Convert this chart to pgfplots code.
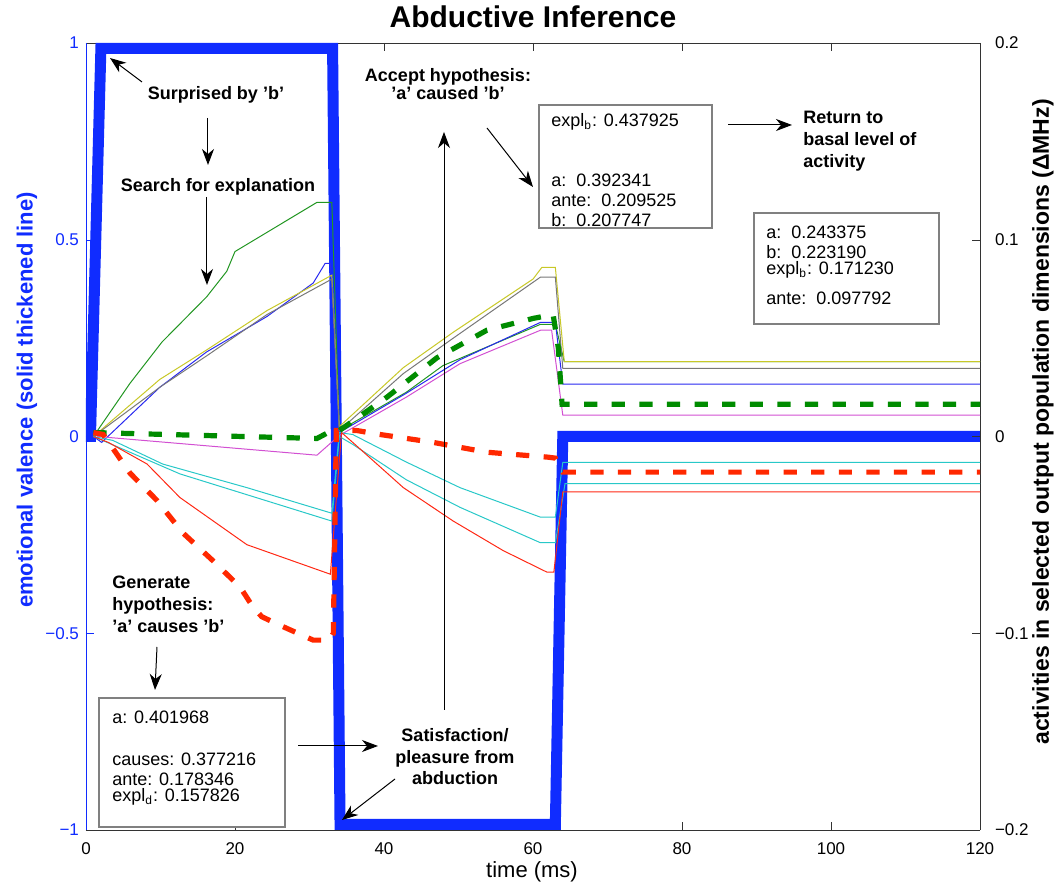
\documentclass[border=0pt]{standalone}
\usepackage{fontspec}
\setmainfont{Liberation Sans}
\usepackage{pgfplots}
\pgfplotsset{compat=1.18}
\usetikzlibrary{arrows.meta}

\definecolor{vblue}{RGB}{16,44,255}
\definecolor{cgreen}{RGB}{34,150,34}
\definecolor{cblue}{RGB}{40,40,240}
\definecolor{cyellow}{RGB}{200,200,40}
\definecolor{cgray}{RGB}{120,120,120}
\definecolor{cmag}{RGB}{210,80,210}
\definecolor{ccyan}{RGB}{40,200,200}
\definecolor{cred}{RGB}{255,40,20}
\definecolor{dgreen}{RGB}{0,140,0}
\definecolor{dred}{RGB}{255,40,0}

\tikzset{
  ann/.style={-{Stealth[length=8pt,width=6pt,inset=2.5pt]}, line width=0.5pt},
  btxt/.style={font=\bfseries\fontsize{9}{11}\selectfont, inner sep=0pt},
  rtxt/.style={font=\fontsize{9}{11}\selectfont, inner sep=0pt, anchor=west},
  vbox/.style={draw=black!50, line width=0.8pt, fill=white},
  thin/.style={line width=0.5pt, no markers},
  dashd/.style={line width=2.6pt, dash pattern=on 6.6pt off 7.2pt, no markers},
}

\begin{document}
\begin{tikzpicture}
\begin{axis}[
  at={(0,0)}, anchor=south west,
  scale only axis, width=447pt, height=393.5pt,
  xmin=0, xmax=120, ymin=-1, ymax=1,
  axis x line*=box, axis y line*=left,
  x axis line style={-, black!80},
  y axis line style={-, vblue},
  xtick={0,20,40,60,80,100,120}, xticklabels={0,20,40,60,80,100,120},
  ytick={-1,-0.5,0,0.5,1}, yticklabels={−1,−0.5,0,0.5,1},
  xtick pos=both, xticklabel pos=left,
  ytick pos=left, yticklabel pos=left,
  tick align=inside, major tick length=4pt,
  xtick style={black!80}, ytick style={vblue},
  yticklabel style={text=vblue, font=\fontsize{8.5}{10}\selectfont, xshift=0pt},
  xticklabel style={font=\fontsize{8.5}{10}\selectfont, yshift=-3pt},
  /pgf/number format/assume math mode=true,
]
\addplot[color=vblue, line width=5.5pt, line join=miter, no markers] coordinates {
(0,0) (0.6,0) (2,0.986) (33.1,0.986) (34.1,-0.986) (63,-0.986) (64,0) (120,0)};
\end{axis}

\begin{axis}[
  at={(0,0)}, anchor=south west,
  scale only axis, width=447pt, height=393.5pt,
  xmin=0, xmax=120, ymin=-0.2, ymax=0.2,
  axis x line=none, axis y line*=right,
  y axis line style={-, black!80},
  ytick={-0.2,-0.1,0,0.1,0.2}, yticklabels={−0.2,−0.1,0,0.1,0.2},
  ytick pos=right, yticklabel pos=right,
  tick align=inside, major tick length=4pt,
  ytick style={black!80},
  yticklabel style={font=\fontsize{8.5}{10}\selectfont, xshift=4pt},
  /pgf/number format/assume math mode=true,
]
% thin lines
\addplot[thin, color=cgreen] coordinates {
(1,0) (5.9,0.027) (10.2,0.048) (16.2,0.071) (18.9,0.084) (20,0.094) (31,0.119) (33,0.119)
(34,0.003) (43,0.0225) (47.9,0.036) (61,0.057) (63,0.057) (64.2,0.038) (120,0.038)};
\addplot[thin, color=cblue] coordinates {
(1,0) (2.1,-0.003) (9.9,0.025) (16.2,0.043) (24.3,0.061) (30.5,0.078) (32.1,0.088) (32.8,0.088)
(34,0.002) (43,0.022) (50.2,0.039) (61,0.058) (63,0.058) (64,0.0266) (120,0.0266)};
\addplot[thin, color=cyellow] coordinates {
(1,0) (9.9,0.029) (16.2,0.044) (24.3,0.064) (33,0.082)
(34,0.005) (42.6,0.035) (49.3,0.053) (60,0.080) (61.2,0.086) (63,0.086) (64.2,0.038) (120,0.038)};
\addplot[thin, color=cgray] coordinates {
(1,0) (9.9,0.025) (16.2,0.041) (24.3,0.062) (33,0.080)
(34,0.003) (42.6,0.032) (49.3,0.050) (61,0.081) (63,0.081) (64,0.0346) (120,0.0346)};
\addplot[thin, color=cmag] coordinates {
(1.5,0) (31,-0.0095) (34,0.0005) (43,0.020) (50.2,0.037) (61,0.054) (62.5,0.054) (64,0.0108) (120,0.0108)};
\addplot[thin, color=ccyan] coordinates {
(1,0) (3.6,-0.002) (10.3,-0.014) (21.6,-0.026) (33,-0.039)
(34,0.002) (35.8,0.001) (43,-0.013) (50.2,-0.026) (61,-0.041) (63,-0.041) (64,-0.0132) (120,-0.0132)};
\addplot[thin, color=ccyan] coordinates {
(1,0) (5.9,-0.008) (12.6,-0.019) (33,-0.043)
(34,0.0) (35.8,-0.004) (43,-0.022) (50.2,-0.036) (61,-0.054) (63,-0.054) (64.3,-0.0239) (120,-0.0239)};
\addplot[thin, color=cred] coordinates {
(1,0) (3,-0.003) (8.2,-0.014) (12.6,-0.031) (21.6,-0.055) (32.8,-0.070)
(34.3,0.002) (35.8,-0.003) (42.6,-0.026) (49.3,-0.043) (56,-0.058) (61.9,-0.069) (62.8,-0.069) (64,-0.0282) (120,-0.0282)};
% dashed lines
\addplot[dashd, color=dgreen] coordinates {
(1,0.002) (31,-0.001) (33,0.003) (34,0.003) (40.4,0.020) (47.1,0.040) (53.8,0.054) (60,0.060)
(62.7,0.062) (63.4,0.045) (63.9,0.0164) (120,0.0164)};
\addplot[dashd, color=dred] coordinates {
(1,0.002) (2.3,0.001) (3.6,-0.006) (5.9,-0.0186) (9.5,-0.0324) (13,-0.049) (17,-0.063) (20.7,-0.0766)
(22.4,-0.0866) (23.6,-0.0916) (26,-0.0959) (30.5,-0.1035) (32.7,-0.1035) (33.2,-0.1) (33.6,0.003)
(36.4,0.003) (39.5,0.001) (46.6,-0.003) (53.8,-0.008) (62,-0.0105) (63,-0.011) (64,-0.0181) (120,-0.0181)};
\end{axis}

\pgfresetboundingbox
\begin{scope}[x=0.5pt,y=-0.5pt,shift={(-86,-830)}]
\path[use as bounding box] (0,0) rectangle (1056,888);
% title and labels
\node[font=\bfseries\fontsize{15}{18}\selectfont] at (533,17) {Abductive Inference};
\node[font=\fontsize{11}{13}\selectfont] at (532,872) {time (ms)};
\node[font=\bfseries\fontsize{11}{13}\selectfont, text=vblue, rotate=90] at (27,400)
  {emotional valence (solid thickened line)};
\node[font=\bfseries\fontsize{11.5}{13}\selectfont, rotate=90] at (1043,422)
  {activities in selected output population dimensions (ΔMHz)};
% annotations
\node[btxt] at (216,95) {Surprised by 'b'};
\draw[ann] (142,82) -- (110,58);
\draw[ann] (208,118) -- (208,165);
\node[btxt] at (218,187) {Search for explanation};
\draw[ann] (207,197) -- (207,285);
\node[btxt, anchor=north west, align=left, font=\bfseries\fontsize{9}{11}\selectfont] at (112,576)
  {Generate\\hypothesis:\\'a' causes 'b'};
\draw[ann] (157,647) -- (155,690);
% box 1
\draw[vbox] (99,698) rectangle (285,827);
\node[rtxt] at (112,717) {a: 0.401968};
\node[rtxt] at (112,759) {causes: 0.377216};
\node[rtxt] at (112,779) {ante: 0.178346};
\node[rtxt] at (112,797) {expl\textsubscript{d}: 0.157826};
\draw[ann] (298,746) -- (378,746);
\node[btxt, align=center, font=\bfseries\fontsize{9}{10.75}\selectfont] at (455,757)
  {Satisfaction/\\pleasure from\\abduction};
\draw[ann] (395,779) -- (342,820);
% accept
\draw[ann] (444,710) -- (444,132);
\node[btxt, align=center, font=\bfseries\fontsize{9}{8.6}\selectfont] at (448,84)
  {Accept hypothesis:\\'a' caused 'b'};
\draw[ann] (487,128) -- (533,187);
% box 2
\draw[vbox] (539,105) rectangle (712,228);
\node[rtxt] at (551,122) {expl\textsubscript{b}: 0.437925};
\node[rtxt] at (551,180) {a:\ \ 0.392341};
\node[rtxt] at (551,200) {ante:\ \ 0.209525};
\node[rtxt] at (551,220) {b:\ \ 0.207747};
\draw[ann] (728,125) -- (792,125);
\node[btxt, anchor=north west, align=left, font=\bfseries\fontsize{9}{11}\selectfont] at (803,111)
  {Return to\\basal level of\\activity};
% box 3
\draw[vbox] (754,213) rectangle (939,324);
\node[rtxt] at (766,232) {a:\ \ 0.243375};
\node[rtxt] at (766,252) {b:\ \ 0.223190};
\node[rtxt] at (766,270) {expl\textsubscript{b}: 0.171230};
\node[rtxt] at (766,298) {ante:\ \ 0.097792};
\end{scope}
\end{tikzpicture}
\end{document}
